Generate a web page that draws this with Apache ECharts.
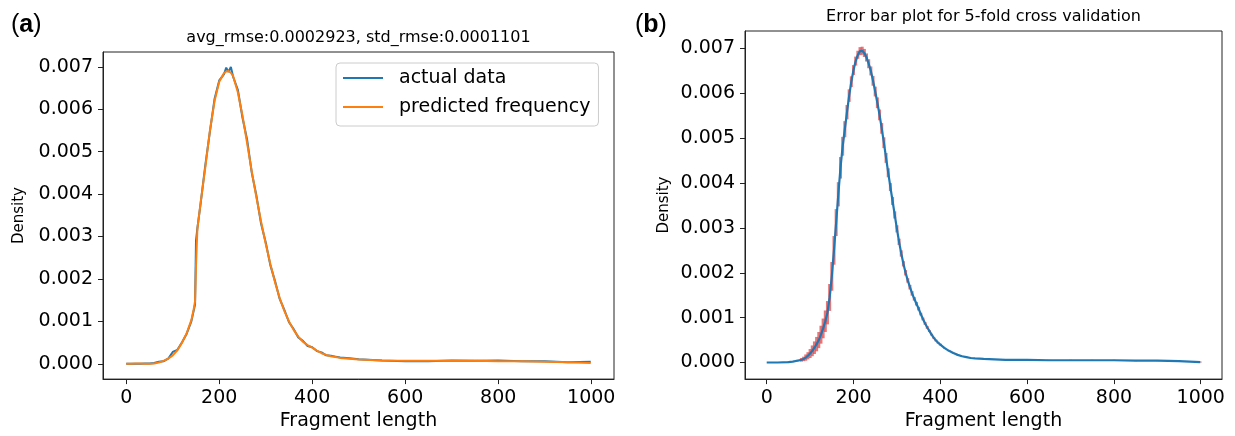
<!DOCTYPE html>
<html>
<head>
<meta charset="utf-8">
<script src="https://cdn.jsdelivr.net/npm/echarts@6/dist/echarts.min.js"></script>
<style>html,body{margin:0;padding:0;background:#fff}#c{width:1235px;height:436px}</style>
</head>
<body>
<div id="c"></div>
<script>
// ---------- Data ----------
const xTicks = [0, 200, 400, 600, 800, 1000];
const yTicks = [0, 0.001, 0.002, 0.003, 0.004, 0.005, 0.006, 0.007];

const titleA = 'avg_rmse:0.0002923, std_rmse:0.0001101';
const titleB = 'Error bar plot for 5-fold cross validation';

// Panel (a): fragment lengths and densities
const aX = [0,10,20,30,40,50,60,70,80,90,100,110,120,130,140,145,148,150,153,160,170,180,190,200,210,215,220,225,230,240,250,260,270,280,290,300,310,320,330,340,350,360,370,380,390,400,410,420,430,440,450,460,480,500,550,600,650,700,750,800,850,900,950,999];
const aActual = [0.00000,0.00000,0.00000,0.00000,0.00001,0.00001,0.00002,0.00005,0.00006,0.00012,0.00028,0.00033,0.00051,0.00071,0.00100,0.00125,0.00140,0.00290,0.00320,0.00378,0.00468,0.00548,0.00625,0.00668,0.00682,0.00698,0.00688,0.00700,0.00676,0.00646,0.00580,0.00528,0.00450,0.00396,0.00330,0.00286,0.00232,0.00195,0.00153,0.00127,0.00098,0.00082,0.00062,0.00054,0.00042,0.00039,0.00030,0.00027,0.00020,0.00019,0.00017,0.00015,0.00013,0.00011,0.00008,0.00006,0.00006,0.00008,0.00007,0.00008,0.00006,0.00006,0.00004,0.00005];
const aPredicted = [0.00000,0.00000,0.00001,0.00001,0.00000,0.00000,0.00001,0.00003,0.00007,0.00012,0.00020,0.00032,0.00050,0.00072,0.00103,0.00128,0.00148,0.00230,0.00318,0.00380,0.00463,0.00550,0.00620,0.00665,0.00685,0.00689,0.00690,0.00686,0.00678,0.00640,0.00585,0.00520,0.00453,0.00392,0.00335,0.00283,0.00235,0.00192,0.00155,0.00125,0.00100,0.00080,0.00064,0.00052,0.00044,0.00038,0.00031,0.00025,0.00021,0.00018,0.00016,0.00014,0.00012,0.00010,0.00008,0.00007,0.00007,0.00007,0.00007,0.00006,0.00006,0.00005,0.00004,0.00002];

// Panel (b): mean density over folds and its error
const bX = [0,25,50,60,70,80,85,90,95,100,105,110,115,120,125,130,135,140,145,150,155,160,165,170,175,180,185,190,195,200,205,210,215,220,225,230,235,240,245,250,255,260,265,270,275,280,285,290,295,300,305,310,315,320,325,330,335,340,345,350,355,360,365,370,375,380,385,390,395,400,410,420,430,440,450,460,470,480,500,550,600,650,700,750,800,850,900,950,999];
const bMean = [0.00000,0.00000,0.00001,0.00002,0.00004,0.00006,0.00008,0.00011,0.00015,0.00020,0.00026,0.00033,0.00041,0.00050,0.00062,0.00076,0.00092,0.00111,0.00145,0.00192,0.00250,0.00312,0.00375,0.00434,0.00482,0.00520,0.00558,0.00595,0.00626,0.00652,0.00672,0.00686,0.00694,0.00695,0.00690,0.00680,0.00666,0.00650,0.00628,0.00604,0.00579,0.00552,0.00522,0.00490,0.00456,0.00423,0.00391,0.00360,0.00329,0.00298,0.00269,0.00243,0.00220,0.00200,0.00183,0.00168,0.00154,0.00142,0.00131,0.00120,0.00108,0.00097,0.00087,0.00078,0.00070,0.00062,0.00055,0.00049,0.00044,0.00040,0.00032,0.00026,0.00021,0.00017,0.00014,0.00012,0.00010,0.00009,0.00008,0.00006,0.00006,0.00005,0.00005,0.00005,0.00005,0.00004,0.00004,0.00003,0.00001];
const bErr = [0,0,0.00001,0.00001,0.00002,0.00004,0.00005,0.00007,0.00008,0.00010,0.00012,0.00014,0.00016,0.00018,0.00020,0.00022,0.00024,0.00026,0.00030,0.00032,0.00032,0.00030,0.00027,0.00024,0.00021,0.00018,0.00016,0.00014,0.00012,0.00011,0.00010,0.00009,0.00009,0.00009,0.00009,0.00009,0.00010,0.00010,0.00011,0.00011,0.00012,0.00012,0.00012,0.00012,0.00011,0.00010,0.00009,0.00009,0.00008,0.00008,0.00007,0.00007,0.00006,0.00006,0.00005,0.00005,0.00005,0.00004,0.00004,0.00004,0.00003,0.00003,0.00003,0.00003,0.00002,0.00002,0.00002,0.00002,0.00002,0.00002,0.00001,0.00001,0.00001,0.00001,0.00001,0.00001,0.00001,0.00001,0.00001,0.00001,0.00001,0.00001,0.00001,0.00001,0.00001,0.00001,0.00001,0.00001,0.00001];

// ---------- Chart ----------
const FONT = 'DejaVu Sans';
const zip = (xs, ys) => xs.map((x, i) => [x, ys[i]]);
const errData = bX.map((x, i) => [x, bMean[i] - (bErr[i] || 0), bMean[i] + (bErr[i] || 0)]);

function xAxisCfg(gi) {
  return {
    gridIndex: gi, type: 'value', min: -50, max: 1049,
    axisLine: { show: true, onZero: false, lineStyle: { color: '#222', width: 1 } },
    splitLine: { show: false },
    axisTick: { show: true, length: 5, customValues: xTicks, lineStyle: { color: '#222' } },
    axisLabel: { customValues: xTicks, fontSize: 19, fontFamily: FONT, color: '#000', margin: 9,
                 formatter: v => String(v) },
    name: 'Fragment length', nameLocation: 'middle', nameGap: 32,
    nameTextStyle: { fontSize: 19, fontFamily: FONT, color: '#000' }
  };
}
function yAxisCfg(gi, min, max, gap) {
  return {
    gridIndex: gi, type: 'value', min: min, max: max,
    axisLine: { show: true, onZero: false, lineStyle: { color: '#222', width: 1 } },
    splitLine: { show: false },
    axisTick: { show: true, length: 5, customValues: yTicks, lineStyle: { color: '#222' } },
    axisLabel: { customValues: yTicks, fontSize: 19, fontFamily: FONT, color: '#000', margin: 10,
                 formatter: v => v.toFixed(3) },
    name: 'Density', nameLocation: 'middle', nameGap: gap,
    nameTextStyle: { fontSize: 15, fontFamily: FONT, color: '#000' }
  };
}

const chart = echarts.init(document.getElementById('c'), null, { renderer: 'canvas' });
chart.setOption({
  animation: false,
  backgroundColor: '#fff',
  grid: [
    { left: 103, top: 52, width: 511, height: 330, show: true, borderColor: '#222', borderWidth: 1, backgroundColor: 'transparent' },
    { left: 745, top: 31, width: 477, height: 349, show: true, borderColor: '#222', borderWidth: 1, backgroundColor: 'transparent' }
  ],
  xAxis: [xAxisCfg(0), xAxisCfg(1)],
  yAxis: [yAxisCfg(0, -0.00036, 0.00735, 76), yAxisCfg(1, -0.00037, 0.00739, 73)],
  legend: {
    data: ['actual data', 'predicted frequency'],
    left: 336, top: 63, orient: 'vertical', icon: 'rect',
    itemWidth: 40, itemHeight: 2, itemGap: 7,
    padding: [4, 8, 8, 7],
    selectedMode: false,
    backgroundColor: 'rgba(255,255,255,0.8)', borderColor: '#ccc', borderWidth: 1, borderRadius: 4,
    textStyle: { fontSize: 19, fontFamily: FONT, color: '#000', lineHeight: 22, padding: [0, 0, 0, 11] }
  },
  graphic: [
    { type: 'text', x: 11, y: 25, style: { text: '{r|(}{b|a}{r|)}', verticalAlign: 'middle',
      rich: { r: { fontSize: 25, fontFamily: 'Liberation Sans', fill: '#000' },
              b: { fontSize: 25, fontFamily: 'Liberation Sans', fontWeight: 'bold', fill: '#000' } } } },
    { type: 'text', x: 635, y: 25, style: { text: '{r|(}{b|b}{r|)}', verticalAlign: 'middle',
      rich: { r: { fontSize: 25, fontFamily: 'Liberation Sans', fill: '#000' },
              b: { fontSize: 25, fontFamily: 'Liberation Sans', fontWeight: 'bold', fill: '#000' } } } },
    { type: 'text', x: 358.5, y: 38, style: { text: titleA, fontSize: 16, fontFamily: FONT, fill: '#000', align: 'center', verticalAlign: 'middle' } },
    { type: 'text', x: 983.5, y: 17, style: { text: titleB, fontSize: 16, fontFamily: FONT, fill: '#000', align: 'center', verticalAlign: 'middle' } }
  ],
  series: [
    { name: 'actual data', type: 'line', xAxisIndex: 0, yAxisIndex: 0, data: zip(aX, aActual),
      showSymbol: false, symbol: 'none', lineStyle: { width: 2, color: '#1f77b4' }, itemStyle: { color: '#1f77b4' }, z: 2 },
    { name: 'predicted frequency', type: 'line', xAxisIndex: 0, yAxisIndex: 0, data: zip(aX, aPredicted),
      showSymbol: false, symbol: 'none', lineStyle: { width: 2, color: '#ff7f0e' }, itemStyle: { color: '#ff7f0e' }, z: 3 },
    { name: 'error', type: 'custom', xAxisIndex: 1, yAxisIndex: 1, data: errData,
      encode: { x: 0, y: [1, 2] }, z: 2,
      renderItem: function (params, api) {
        const p1 = api.coord([api.value(0), api.value(1)]);
        const p2 = api.coord([api.value(0), api.value(2)]);
        return { type: 'line', shape: { x1: p1[0], y1: p1[1], x2: p2[0], y2: p2[1] },
                 style: { stroke: 'rgba(226,72,72,0.75)', lineWidth: 3 } };
      } },
    { name: 'mean', type: 'line', xAxisIndex: 1, yAxisIndex: 1, data: zip(bX, bMean),
      showSymbol: false, symbol: 'none', lineStyle: { width: 2.2, color: '#1f77b4' }, itemStyle: { color: '#1f77b4' }, z: 3 }
  ]
});
</script>
</body>
</html>
